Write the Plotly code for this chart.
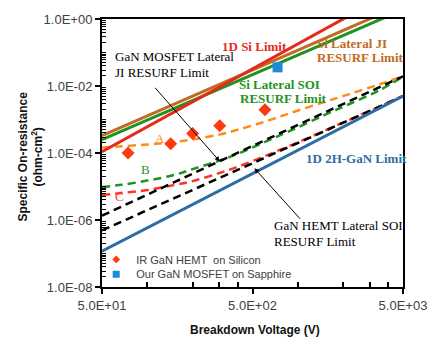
import math
import plotly.graph_objects as go

# ---------------- data ----------------
V_END = [50, 5000]
si_1d_limit = [1.1e-4, 9.6]
si_lateral_ji = [3.3e-4, 2.74]
si_lateral_soi = [2.5e-4, 1.9]
gan_2h_1d_limit = [1.17e-7, 5.0e-3]
gan_mosfet_lat_ji = [1.35e-6, 1.95e-2]
gan_hemt_lat_soi = [4.9e-7, 5.0e-3]

V_CURVE = [50, 65, 100, 150, 200, 300, 400, 600, 900, 1500, 2200, 3500, 5000]
curve_A = [1.46e-4, 1.57e-4, 1.79e-4, 2.12e-4, 2.52e-4, 3.54e-4, 4.97e-4, 8.55e-4,
           1.58e-3, 3.33e-3, 5.73e-3, 1.13e-2, 1.95e-2]
curve_B = [9.7e-6, 1.1e-5, 1.5e-5, 2.2e-5, 3.3e-5, 5.9e-5, 9.5e-5, 2.1e-4,
           4.7e-4, 1.35e-3, 2.9e-3, 7.5e-3, 1.9e-2]
curve_C = [5.6e-6, 6.3e-6, 7.8e-6, 1.1e-5, 1.45e-5, 2.5e-5, 3.9e-5, 8.0e-5,
           1.7e-4, 4.6e-4, 9.8e-4, 2.45e-3, 5.0e-3]

ir_hemt_v = [74.5, 143, 200, 303, 605]
ir_hemt_r = [1.0e-4, 1.9e-4, 3.8e-4, 6.5e-4, 1.95e-3]
our_mosfet_v = [734]
our_mosfet_r = [3.6e-2]

x_tick_vals = [50, 500, 5000]
x_tick_text = ["5.0E+01", "5.0E+02", "5.0E+03"]
y_tick_vals = [1, 1e-2, 1e-4, 1e-6, 1e-8]
y_tick_text = ["1.0E+00", "1.0E-02", "1.0E-04", "1.0E-06", "1.0E-08"]

# ---------------- layout helpers ----------------
W, H = 439, 344
L, R, T, B = 102, 414, 15, 287
def px(x):
    return (x - L) / (R - L)
def py(y):
    return (B - y) / (B - T)

SANS = "Arial, Liberation Sans, sans-serif"
SERIF = "Times New Roman, Liberation Serif, serif"

RED = "#e42a1c"
BROWN = "#c06a22"
GREEN = "#1f921f"
BLUE = "#2e6da4"
ORANGE = "#ff8c1a"
DRED = "#ff3322"
DIAMOND = "#ff3a10"
SQUARE = "#1e8ad8"

fig = go.Figure()

def line(x, y, color, dash=None, width=3, shape="linear"):
    fig.add_trace(go.Scatter(x=x, y=y, mode="lines", showlegend=False,
                             line=dict(color=color, width=width, dash=dash, shape=shape),
                             hoverinfo="skip"))

DASH = "8px,5px"
line(V_CURVE, curve_A, ORANGE, DASH, 2.5, "spline")
line(V_CURVE, curve_B, GREEN, DASH, 2.5, "spline")
line(V_CURVE, curve_C, DRED, DASH, 2.5, "spline")
line(V_END, gan_mosfet_lat_ji, "black", DASH, 2.5)
line(V_END, gan_hemt_lat_soi, "black", DASH, 2.5)
line(V_END, si_lateral_ji, BROWN)
line(V_END, si_lateral_soi, GREEN)
line(V_END, si_1d_limit, RED)
line(V_END, gan_2h_1d_limit, BLUE)

fig.add_trace(go.Scatter(x=ir_hemt_v, y=ir_hemt_r, mode="markers", showlegend=False,
                         name="IR GaN HEMT  on Silicon",
                         marker=dict(symbol="diamond", size=10, color=DIAMOND)))
fig.add_trace(go.Scatter(x=our_mosfet_v, y=our_mosfet_r, mode="markers", showlegend=False,
                         name="Our GaN MOSFET on Sapphire",
                         marker=dict(symbol="square", size=10, color=SQUARE)))
# legend entries (small legend symbols, as in the reference)
fig.add_trace(go.Scatter(x=[None], y=[None], mode="markers", legend="legend",
                         name="IR GaN HEMT  on Silicon",
                         marker=dict(symbol="diamond", size=6, color=DIAMOND)))
fig.add_trace(go.Scatter(x=[None], y=[None], mode="markers", legend="legend2",
                         name="Our GaN MOSFET on Sapphire",
                         marker=dict(symbol="square", size=7, color=SQUARE)))

ann = []
def text(t, x, y, color, size=13, bold=False, anchor="left", family=SERIF):
    ann.append(dict(text=f"<b>{t}</b>" if bold else t, x=px(x), y=py(y),
                    xref="paper", yref="paper", xanchor=anchor, yanchor="middle",
                    showarrow=False, font=dict(family=family, size=size, color=color)))

text("1D Si Limit", 224, 43, RED, bold=True)
text("Si Lateral JI", 323, 40, BROWN, bold=True)
text("RESURF Limit", 323, 54, BROWN, bold=True)
text("Si Lateral SOI", 242, 81, GREEN, bold=True)
text("RESURF Limit", 243, 96, GREEN, bold=True)
text("1D 2H-GaN Limit", 311, 157, BLUE, bold=True)
text("GaN MOSFET Lateral", 113, 53, "black")
text("JI RESURF Limit", 113, 69, "black")
text("GaN HEMT Lateral SOI", 278, 225, "black")
text("RESURF Limit", 278, 241, "black")
text("A", 162, 136, ORANGE, anchor="center")
text("B", 147, 168, GREEN, anchor="center")
text("C", 120, 195, DRED, anchor="center")

# arrows (head on the black dashed limit lines)
ann.append(dict(text="", x=math.log10(303), y=math.log10(5.65e-5), xref="x", yref="y",
                showarrow=True, ax=-66, ay=-75, arrowhead=2, arrowsize=1, arrowwidth=1,
                arrowcolor="black"))
ann.append(dict(text="", x=math.log10(515), y=math.log10(3.5e-5), xref="x", yref="y",
                showarrow=True, ax=47, ay=52, arrowhead=2, arrowsize=1, arrowwidth=1,
                arrowcolor="black"))

# axis titles
ann.append(dict(text="<b>Breakdown Voltage (V)</b>", x=px(261), y=py(331), xref="paper",
                yref="paper", xanchor="center", yanchor="middle", showarrow=False,
                font=dict(family=SANS, size=12, color="#111")))
ann.append(dict(text="<b>Specific On-resistance<br>(ohm-cm<sup>2</sup>)</b>", x=px(28),
                y=py(155), xref="paper", yref="paper", xanchor="center", yanchor="middle",
                textangle=-90, showarrow=False,
                font=dict(family=SANS, size=12, color="#111")))

minor_x = [100, 200, 300, 400, 1000, 2000, 3000, 4000]
minor_y = []
for e in range(-8, 0):
    for m in range(1, 10):
        if m == 1 and e % 2 == 0:
            continue
        minor_y.append(m * 10 ** e)

fig.update_layout(
    width=W, height=H, margin=dict(l=L, r=W - R, t=T, b=H - B),
    paper_bgcolor="white", plot_bgcolor="white",
    annotations=ann,
    xaxis=dict(type="log", range=[math.log10(50), math.log10(5000)],
               tickmode="array", tickvals=x_tick_vals, ticktext=x_tick_text,
               ticks="outside", ticklen=5, tickwidth=1.5, tickcolor="black",
               showline=True, linecolor="black", linewidth=2, mirror=True,
               showgrid=False, zeroline=False,
               tickfont=dict(family=SANS, size=13, color="#404040"),
               minor=dict(tickmode="array", tickvals=minor_x, ticks="inside",
                          ticklen=5, tickwidth=1.5, tickcolor="black", showgrid=False)),
    yaxis=dict(type="log", range=[-8, 0],
               tickmode="array", tickvals=y_tick_vals, ticktext=y_tick_text,
               ticks="outside", ticklen=5, tickwidth=1.5, tickcolor="black",
               showline=True, linecolor="black", linewidth=2, mirror=True,
               showgrid=False, zeroline=False,
               tickfont=dict(family=SANS, size=13, color="#404040"),
               minor=dict(tickmode="array", tickvals=minor_y, ticks="inside",
                          ticklen=4, tickwidth=1, tickcolor="black", showgrid=False)),
    legend=dict(x=px(96), y=py(259), xanchor="left", yanchor="middle",
                bgcolor="rgba(0,0,0,0)", borderwidth=0,
                font=dict(family=SANS, size=11, color="#404040")),
    legend2=dict(x=px(96), y=py(274), xanchor="left", yanchor="middle",
                 bgcolor="rgba(0,0,0,0)", borderwidth=0,
                 font=dict(family=SANS, size=11, color="#404040")),
)

fig.write_html("out.html")
